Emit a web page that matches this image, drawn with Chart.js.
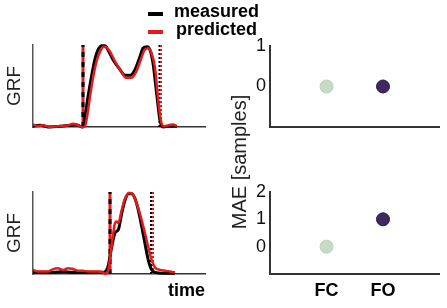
<!DOCTYPE html>
<html><head><meta charset="utf-8">
<script src="https://cdn.jsdelivr.net/npm/chart.js@4.4.0/dist/chart.umd.min.js"></script>
<style>
html,body{margin:0;padding:0;background:#fff;}
#wrap{position:relative;width:447px;height:308px;overflow:hidden;font-family:"Liberation Sans",Arial,sans-serif;}
canvas{position:absolute;}
.leg{position:absolute;font-weight:bold;font-size:18px;line-height:18px;color:#000;white-space:nowrap;}
.sw{position:absolute;width:15px;height:4px;}
#mae{position:absolute;font-size:20px;line-height:20px;color:#222;white-space:nowrap;width:200px;text-align:center;left:139px;top:152px;transform:rotate(-90deg);}
</style></head>
<body><div id="wrap">
<canvas id="tl" width="224" height="150" style="left:0;top:0"></canvas>
<canvas id="bl" width="224" height="158" style="left:0;top:150px"></canvas>
<canvas id="tr" width="223" height="150" style="left:224px;top:0"></canvas>
<canvas id="br" width="223" height="158" style="left:224px;top:150px"></canvas>
<div class="sw" style="left:148px;top:12px;background:#000"></div>
<div class="leg" style="left:174px;top:2px">measured</div>
<div class="sw" style="left:148px;top:30px;background:#e41a1c"></div>
<div class="leg" style="left:176px;top:20px">predicted</div>
<div id="mae">MAE [samples]</div>
</div>
<script>
// ---- data ----
const seriesNames = ['measured', 'predicted'];

const topMeasuredT = [0,7,17,27,37,42,47,50,52,55,59,62,65,69,72,75,80,87,92,97,102,107,110,114,117,120,124,127,130,137,144];
const topMeasuredY = [0.01,0.02,0.00,0.01,0.02,0.03,0.01,0.00,0.12,0.37,0.65,0.83,0.94,0.99,0.99,0.94,0.82,0.70,0.63,0.63,0.70,0.86,0.96,0.98,0.94,0.78,0.37,0.08,0.00,0.01,0.01];
const topPredT = [0,5,10,17,25,35,40,45,50,52,54,57,60.5,64,67.5,70.5,73.5,77,82,88,93,98,103,108,111.5,115,118.5,122,125,128,131,135,140,144];
const topPredY = [0.03,0.01,0.02,0.00,0.01,0.02,0.04,0.02,0.00,0.01,0.12,0.37,0.63,0.82,0.93,0.98,0.97,0.92,0.80,0.68,0.60,0.60,0.67,0.83,0.94,0.96,0.90,0.72,0.35,0.07,0.01,0.02,0.03,0.01];
const topEvents = {onset: 50, offsetMeasured: 126.5, offsetPredicted: 128};

const botMeasuredT = [0,10,20,30,40,50,60,70,75,78.7,82,85.3,88.7,92,95.3,98.7,102,105.3,108.7,112,115.3,118.7,122,130,142];
const botMeasuredY = [0.02,0.02,0.02,0.03,0.02,0.02,0.02,0.02,0.09,0.33,0.50,0.54,0.74,0.90,0.98,0.98,0.92,0.78,0.58,0.37,0.17,0.05,0.02,0.01,0.01];
const botPredT = [0,5,15,20,25,30,35,40,45,50,55,60,65,70,72,75.3,77.7,80.3,82,83.7,85.3,88.7,92,96.3,100.3,105.3,110.3,115.3,118.7,122,127,132,137,142];
const botPredY = [0.05,0.03,0.03,0.06,0.07,0.05,0.07,0.06,0.04,0.04,0.03,0.03,0.03,0.02,0.00,0.05,0.26,0.50,0.62,0.64,0.62,0.78,0.92,0.99,0.96,0.80,0.58,0.33,0.17,0.08,0.05,0.04,0.03,0.02];
const botEvents = {onset: 77, offsetMeasured: 118, offsetPredicted: 120};

const maeCategories = ['FC', 'FO'];
const maeTop = [0, 0];
const maeBottom = [0, 1];
const maeTopTicks = [0, 1];
const maeBottomTicks = [0, 1, 2];

// ---- styles ----
const BLACK = '#000000', RED = '#e41a1c';
const maeColors = ['#c3dcc7', '#3d2862'];
const maeBorders = ['#b5d0b9', '#2a1a4a'];
const FAM = '"Liberation Sans", Arial, sans-serif';

function pts(t, y) { return t.map((v, i) => ({x: v, y: y[i]})); }
function vline(x) { return [{x: x, y: 0}, {x: x, y: 1}]; }

function grfChart(id, mT, mY, pT, pY, ev, pad, xh, showTime) {
  const line = {pointRadius: 0, clip: false, fill: false};
  return new Chart(document.getElementById(id), {
    type: 'line',
    data: {datasets: [
      Object.assign({label: seriesNames[1], data: pts(pT, pY), borderColor: RED, borderWidth: 2.5, cubicInterpolationMode: 'monotone', order: 0}, line),
      Object.assign({label: seriesNames[0], data: pts(mT, mY), borderColor: BLACK, borderWidth: 3, cubicInterpolationMode: 'monotone', order: 1}, line),
      Object.assign({data: vline(ev.onset), borderColor: BLACK, borderWidth: 3, borderDash: [5, 5], order: 2}, line),
      Object.assign({data: vline(ev.onset), borderColor: RED, borderWidth: 3, order: 3}, line),
      Object.assign({data: vline(ev.offsetPredicted), borderColor: RED, borderWidth: 2, borderDash: [2, 2], order: 4}, line),
      Object.assign({data: vline(ev.offsetMeasured), borderColor: BLACK, borderWidth: 2, borderDash: [2, 2], order: 5}, line)
    ]},
    options: {
      responsive: false, animation: false, devicePixelRatio: 1,
      layout: {padding: pad},
      plugins: {legend: {display: false}, tooltip: {enabled: false}},
      scales: {
        x: {type: 'linear', min: 0, max: 172,
            ticks: {display: false}, grid: {display: false},
            border: {display: true, color: '#333', width: 1.5},
            title: {display: showTime, text: 'time', align: 'end', color: '#000',
                    font: {family: FAM, size: 18, weight: 'bold'}, padding: {top: 0, bottom: 6}},
            afterFit: s => { s.height = xh; }},
        y: {min: 0, max: 1,
            ticks: {display: false}, grid: {display: false},
            border: {display: true, color: '#555', width: 1.5},
            title: {display: true, text: 'GRF', color: '#222',
                    font: {family: FAM, size: 19}, padding: {top: 3, bottom: 0}},
            afterFit: s => { s.width = 33; }}
      }
    }
  });
}

function maeChart(id, vals, yTicks, pad, xh, showCats) {
  return new Chart(document.getElementById(id), {
    type: 'scatter',
    data: {datasets: [{
      data: maeCategories.map((c, i) => ({x: i + 1, y: vals[i]})),
      pointBackgroundColor: maeColors, pointBorderColor: maeBorders,
      pointBorderWidth: 1, pointRadius: 6.5, clip: false
    }]},
    options: {
      responsive: false, animation: false, devicePixelRatio: 1,
      layout: {padding: pad},
      plugins: {legend: {display: false}, tooltip: {enabled: false}},
      scales: {
        x: {type: 'linear', min: 0, max: maeCategories.length + 1,
            afterBuildTicks: s => { s.ticks = maeCategories.map((c, i) => ({value: i + 1})); },
            ticks: {display: showCats, callback: v => maeCategories[v - 1], color: '#000',
                    font: {family: FAM, size: 18, weight: 'bold'}, padding: 6, maxRotation: 0},
            grid: {display: false, drawTicks: false},
            border: {display: true, color: '#333', width: 2},
            afterFit: s => { s.height = xh; }},
        y: {min: -1, max: yTicks[yTicks.length - 1],
            afterBuildTicks: s => { s.ticks = yTicks.map(v => ({value: v})); },
            ticks: {color: '#111', font: {family: FAM, size: 18}, padding: 4},
            grid: {display: false, drawTicks: false},
            border: {display: true, color: '#333', width: 2},
            afterFit: s => { s.width = 46; }}
      }
    }
  });
}

grfChart('tl', topMeasuredT, topMeasuredY, topPredT, topPredY, topEvents, {left: 0, right: 19, top: 45, bottom: 23}, 0, false);
grfChart('bl', botMeasuredT, botMeasuredY, botPredT, botPredY, botEvents, {left: 0, right: 19, top: 42, bottom: 0}, 34, true);
maeChart('tr', maeTop, maeTopTicks, {left: 0, right: 5, top: 46, bottom: 23}, 0, false);
maeChart('br', maeBottom, maeBottomTicks, {left: 0, right: 5, top: 42, bottom: 0}, 34, true);
</script>
</body></html>
